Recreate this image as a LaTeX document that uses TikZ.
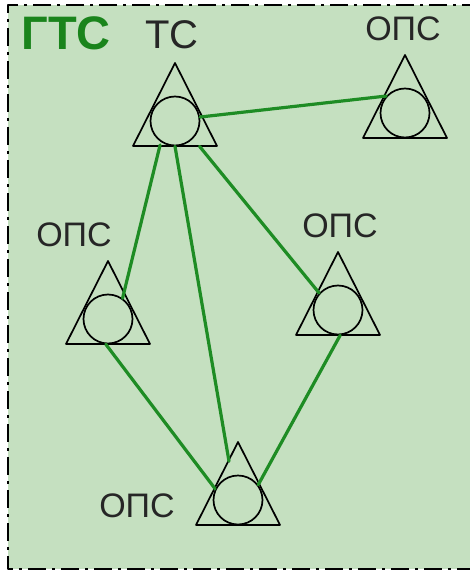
\documentclass[tikz,border=0pt]{standalone}
\usepackage{fontspec}
\setmainfont{Liberation Sans}
\usetikzlibrary{calc}
\definecolor{fon}{RGB}{197,224,192}
\definecolor{svyaz}{RGB}{30,140,36}
\definecolor{gts}{RGB}{26,132,28}
\begin{document}
\begin{tikzpicture}[x=1pt,y=-1pt, line join=round, line cap=round,
    uzel/.style={circle, draw, line width=1.7pt, minimum size=49pt, inner sep=0pt},
    tri/.style={line width=1.7pt},
    link/.style={svyaz, line width=3.2pt},
    lbl/.style={font=\fontsize{34}{40}\selectfont, inner sep=0pt, text=black!85}]
    \useasboundingbox (0,0) rectangle (470,572);
    % фон и рамка
    \fill[fon] (8,5) rectangle (480,569);
    \draw[line width=2.8pt, dash pattern=on 18pt off 6pt on 3pt off 6pt, line cap=butt]
        (480,5) -- (8,5) -- (8,569) -- (480,569);
    \node[font=\fontsize{47}{50}\selectfont\bfseries, text=gts, inner sep=0pt] (gtc) at (66,33) {ГТС};
    % станции
    \node[uzel] (ts) at (175,121) {};
    \node[uzel] (ops1) at (405,113) {};
    \node[uzel] (ops2) at (108,319) {};
    \node[uzel] (ops3) at (338,310) {};
    \node[uzel] (ops4) at (238,500) {};
    \foreach \n in {ts,ops1,ops2,ops3,ops4}
        \draw[tri] ($(\n.center)+(0,-58)$) -- ($(\n.center)+(42,25)$) -- ($(\n.center)+(-42,25)$) -- cycle;
    % подписи
    \node[lbl, font=\fontsize{40}{44}\selectfont] (tsl) at (172,35) {ТС};
    \node[lbl] (ops1l) at (403,29) {ОПС};
    \node[lbl] (ops2l) at (74,235) {ОПС};
    \node[lbl] (ops3l) at (340,226) {ОПС};
    \node[lbl] (ops4l) at (137,506) {ОПС};
    % связи
    \draw[link] (ts.9) -- (ops1.138);
    \draw[link, shorten <=3pt] (ts.236) -- (ops2.55);
    \draw[link, shorten >=14.5pt] (ts.south) -- (ops4.105);
    \draw[link, shorten <=10pt] (ts.-44) -- (ops3.138);
    \draw[link] (ops2.265) -- (ops4.154);
    \draw[link] (ops3.275) -- (ops4.37);
\end{tikzpicture}
\end{document}
